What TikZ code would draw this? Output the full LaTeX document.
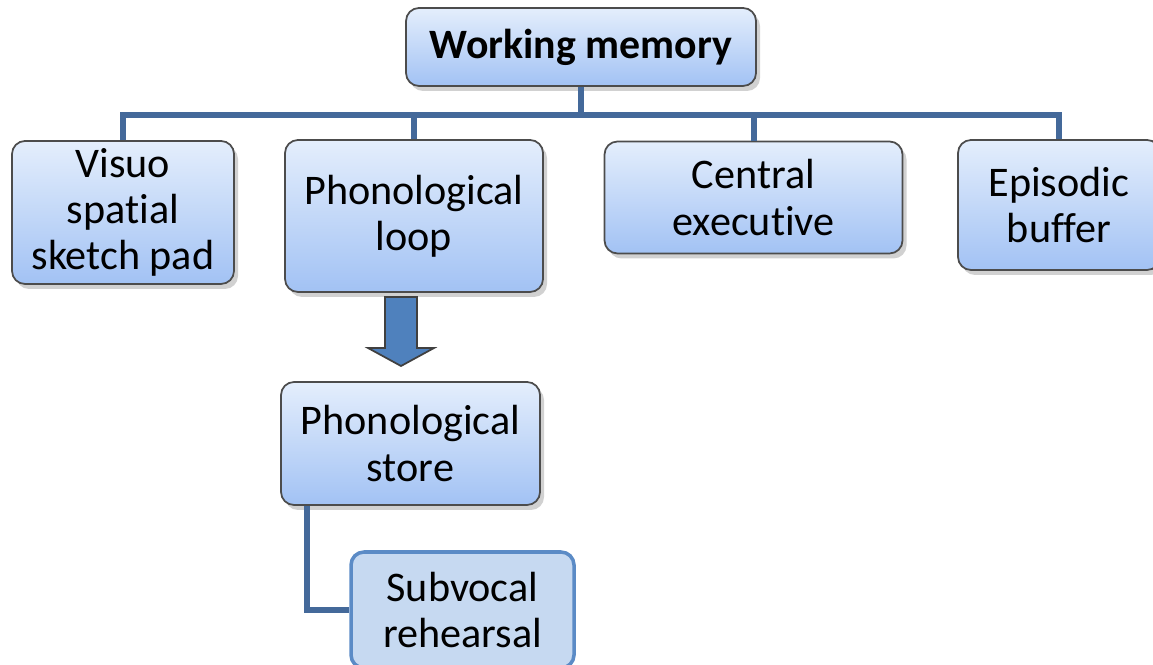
\documentclass[tikz,border=0pt]{standalone}
\usepackage{fontspec}
\setmainfont{Carlito}[Ligatures={NoCommon,NoContextual},Contextuals=NoAlternate]
\usetikzlibrary{shadows}

\definecolor{bluRamo}{HTML}{44699A}
\definecolor{cimaBox}{HTML}{E4EEFC}
\definecolor{fondoBox}{HTML}{A2C2F4}
\definecolor{bluFreccia}{HTML}{4F81BD}
\definecolor{bluChiaro}{HTML}{C6D9F1}
\definecolor{bordoChiaro}{HTML}{5B8BC6}

\begin{document}
\begin{tikzpicture}[
			line width=0.6pt,
			blocco/.style={rectangle, rounded corners=0.13cm,
				top color=cimaBox, bottom color=fondoBox,
				draw=black!70, line width=0.5pt, align=center,
				inner sep=0pt, font=\fontsize{12}{13.2}\selectfont,
				drop shadow={shadow xshift=0.04cm, shadow yshift=-0.05cm,
					opacity=0.3, fill=black!60}},
			bloccoPiatto/.style={rectangle, rounded corners=0.13cm,
				fill=bluChiaro, draw=bordoChiaro, line width=1pt,
				align=center, inner sep=0pt,
				font=\fontsize{12}{13.2}\selectfont},
			ramo/.style={line width=1.7pt, line join=miter, bluRamo}]
			
			\useasboundingbox (0,0) rectangle (11.53,-6.65);
			\clip (0,0) rectangle (11.53,-6.65);
			
			%% radice
			\node[blocco, minimum width=3.50cm, minimum height=0.78cm,
				font=\fontsize{11.9}{13.2}\selectfont\bfseries]
				(wm) at (5.81,-0.47) {Working memory};
			
			%% quattro componenti
			\node[blocco, minimum width=2.22cm, minimum height=1.43cm]
				(vsp) at (1.23,-2.125) {Visuo\\spatial\\sketch pad};
			\node[blocco, minimum width=2.58cm, minimum height=1.52cm]
				(pl) at (4.14,-2.16) {Phonological\\loop};
			\node[blocco, minimum width=2.98cm, minimum height=1.12cm]
				(ce) at (7.535,-1.975) {Central\\executive};
			\node[blocco, minimum width=2.02cm, minimum height=1.30cm]
				(eb) at (10.59,-2.05) {Episodic\\buffer};
			
			%% sotto-componenti del loop
			\node[blocco, minimum width=2.59cm, minimum height=1.23cm]
				(ps) at (4.105,-4.435) {Phonological\\store};
			\node[bloccoPiatto, minimum width=2.23cm, minimum height=1.16cm]
				(sr) at (4.625,-6.10) {Subvocal\\rehearsal};
			
			%% albero
			\coordinate (bus) at (0,-1.15);
			\draw[ramo] (wm.south) -- (wm.south |- bus);
			\draw[ramo] (vsp.north) -- (vsp.north |- bus)
				-- (eb.north |- bus) -- (eb.north);
			\draw[ramo] (pl.north) -- (pl.north |- bus);
			\draw[ramo] (ce.north) -- (ce.north |- bus);
			
			%% freccia a blocco loop -> store
			\def\xF{4.01}
			\draw[fill=bluFreccia, draw=black!75, line width=0.5pt]
				(\xF-0.16,-2.97) -- (\xF+0.16,-2.97) -- (\xF+0.16,-3.48)
				-- (\xF+0.33,-3.48) -- (\xF,-3.66) -- (\xF-0.33,-3.48)
				-- (\xF-0.16,-3.48) -- cycle;
			
			%% store -> rehearsal
			\draw[ramo] ([xshift=0.27cm]ps.south west) |- (sr.west);
			
		\end{tikzpicture}
\end{document}
